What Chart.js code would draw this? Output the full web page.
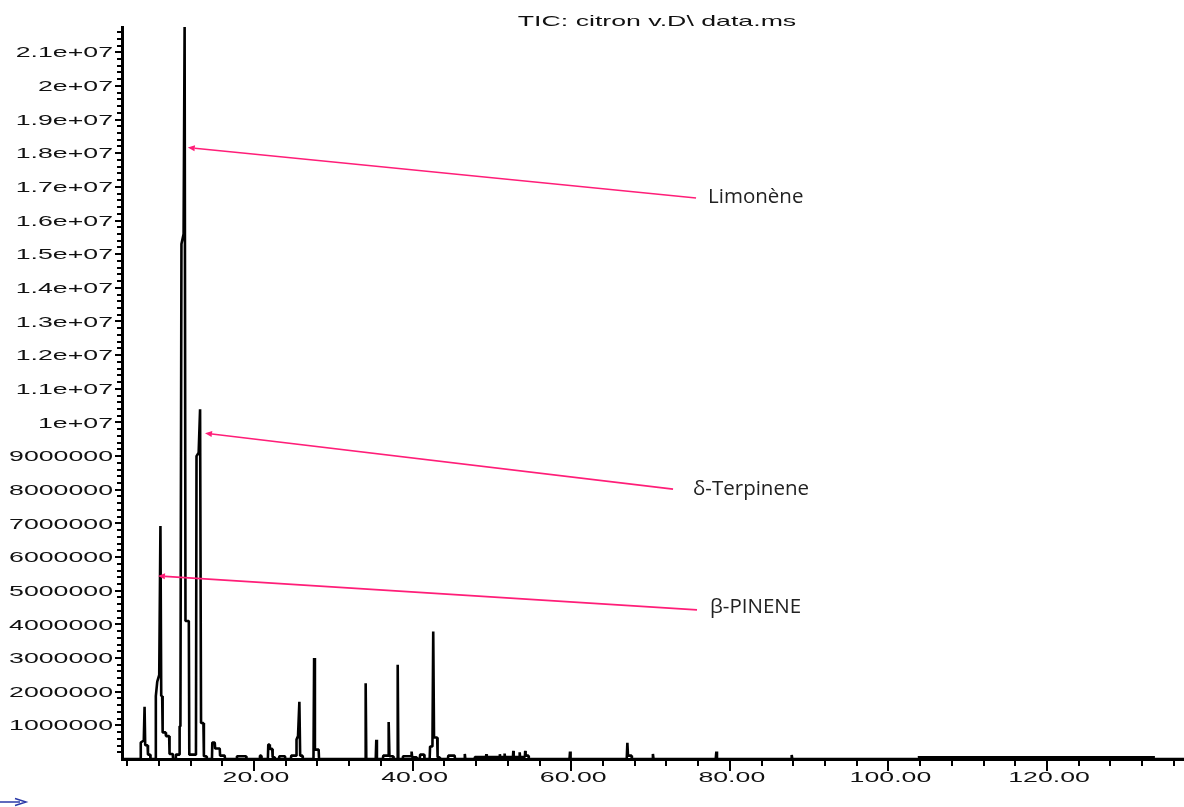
<!DOCTYPE html>
<html>
<head>
<meta charset="utf-8">
<style>
  html, body { margin: 0; padding: 0; background: #ffffff; }
  #wrap { width: 1184px; height: 807px; position: relative; }
  canvas { display: block; }
</style>
<script src="https://cdn.jsdelivr.net/npm/chart.js@4.4.1/dist/chart.umd.min.js"></script>
</head>
<body>
<div id="wrap"><canvas id="c" width="1184" height="807"></canvas></div>
<script>
// ---------------- DATA ----------------
const chartTitle = 'TIC: citron v.D\\ data.ms';

// retention time (min) of each point of the TIC trace
const rt = [
  3.35,
  5.65, 5.72, 6.10, 6.20, 6.28, 6.58, 6.63, 6.90, 6.95,
  7.55, 7.62, 7.80, 8.05, 8.20, 8.30, 8.42, 8.48, 8.85, 8.90, 9.30, 9.35, 9.75, 9.80,
  10.10, 10.15, 10.55, 10.62, 10.72, 10.85, 11.12, 11.25, 11.36, 11.78, 11.84, 12.68,
  12.75, 13.02, 13.20, 13.32, 13.62, 13.68, 14.00, 14.05,
  14.70, 14.74, 15.05, 15.10, 15.68, 15.72, 16.30, 16.35,
  17.80, 17.85, 19.00, 19.05,
  20.70, 20.75, 20.90, 20.95,
  21.75, 21.80, 21.95, 22.00, 22.30, 22.35, 22.60, 22.65,
  23.15, 23.20, 23.90, 23.95,
  24.65, 24.70, 25.30, 25.36, 25.55, 25.72, 25.82, 26.10, 26.15,
  27.50, 27.58, 27.68, 28.15, 28.20,
  34.00, 34.08, 34.16,
  35.35, 35.42, 35.50,
  36.25, 36.30, 36.90, 36.98, 37.08, 37.55, 37.60,
  38.04, 38.12, 38.20,
  38.75, 38.80, 39.80, 39.87, 39.95, 40.50, 40.55,
  40.90, 40.95, 41.45, 41.50,
  42.15, 42.20, 42.50, 42.60, 42.70, 43.10, 43.15, 43.40, 43.45,
  44.45, 44.50, 45.30, 45.35,
  46.50, 46.58, 46.65,
  47.80, 47.85, 49.25, 49.30, 49.35, 50.95, 51.00, 51.05, 51.55, 51.60, 51.65,
  52.65, 52.70, 52.75, 53.45, 53.50, 53.55, 54.15, 54.20, 54.25, 54.60, 54.65,
  59.78, 59.85, 59.92,
  67.00, 67.08, 67.16, 67.60, 67.65,
  70.22, 70.30, 70.38,
  78.22, 78.30, 78.38,
  87.72, 87.80, 87.88,
  137.30
];

// abundance (counts) at each point of the trace
const tic = [
  0,
  0, 490000, 550000, 1550000, 410000, 410000, 130000, 130000, 0,
  0, 1870000, 2300000, 2500000, 6920000, 1870000, 1870000, 790000, 790000, 680000, 680000, 150000, 150000, 0,
  0, 130000, 130000, 970000, 970000, 15300000, 15600000, 21750000, 4100000, 4100000, 130000, 130000,
  9000000, 9100000, 10390000, 1070000, 1070000, 80000, 80000, 0,
  0, 490000, 490000, 310000, 310000, 100000, 100000, 0,
  0, 80000, 80000, 0,
  0, 100000, 100000, 0,
  0, 430000, 430000, 300000, 300000, 50000, 50000, 0,
  0, 80000, 80000, 0,
  0, 100000, 100000, 580000, 680000, 1700000, 100000, 100000, 0,
  0, 3000000, 280000, 280000, 0,
  0, 2250000, 0,
  0, 570000, 0,
  0, 100000, 100000, 1100000, 80000, 80000, 0,
  0, 2800000, 0,
  0, 80000, 80000, 220000, 50000, 50000, 0,
  0, 130000, 130000, 0,
  0, 370000, 370000, 3790000, 640000, 640000, 50000, 50000, 0,
  0, 100000, 100000, 0,
  0, 150000, 0,
  0, 60000, 60000, 140000, 60000, 60000, 140000, 60000, 60000, 160000, 60000,
  60000, 240000, 60000, 60000, 200000, 60000, 60000, 240000, 100000, 100000, 0,
  0, 220000, 0,
  0, 480000, 100000, 100000, 0,
  0, 150000, 0,
  0, 220000, 0,
  0, 120000, 0,
  0
];

// late baseline noise band (thick baseline)
const noiseRt  = [103.7, 133.6];
const noiseTic = [70000, 70000];

// axis ticks
const xMajorTicks  = [20, 40, 60, 80, 100, 120];
const xTickLabels  = ['20.00', '40.00', '60.00', '80.00', '100.00', '120.00'];
const yMajorTicks  = [1000000, 2000000, 3000000, 4000000, 5000000, 6000000, 7000000, 8000000, 9000000,
                      10000000, 11000000, 12000000, 13000000, 14000000, 15000000, 16000000, 17000000,
                      18000000, 19000000, 20000000, 21000000];
const yTickLabels  = ['1000000', '2000000', '3000000', '4000000', '5000000', '6000000', '7000000', '8000000', '9000000',
                      '1e+07', '1.1e+07', '1.2e+07', '1.3e+07', '1.4e+07', '1.5e+07', '1.6e+07', '1.7e+07',
                      '1.8e+07', '1.9e+07', '2e+07', '2.1e+07'];

// peak annotations (arrow tip and tail in data coordinates)
const annLabels   = ['Limonène', 'δ-Terpinene', 'β-PINENE'];
const annTipRt    = [11.65, 13.82, 7.89];
const annTipTic   = [18170000, 9680000, 5440000];
const annTailRt   = [75.74, 72.84, 75.86];
const annTailTic  = [16670000, 8020000, 4430000];

// ---------------- CHART ----------------
const X_MIN = 3.354, X_MAX = 137.27;
const Y_MIN = 0, Y_MAX = 21750000;
const STRETCH = 1.78; // horizontal stretch of the instrument's fonts

const tracePoints = rt.map((t, i) => ({ x: t, y: tic[i] }));
const noisePoints = noiseRt.map((t, i) => ({ x: t, y: noiseTic[i] }));

function stretchedText(ctx, text, x, y, align) {
  ctx.save();
  ctx.translate(x, y);
  ctx.scale(STRETCH, 1);
  ctx.textAlign = align;
  ctx.fillText(text, 0, 0);
  ctx.restore();
}

const axisDecor = {
  id: 'axisDecor',
  afterDraw(chart) {
    const ctx = chart.ctx;
    const xs = chart.scales.x, ys = chart.scales.y;
    const area = chart.chartArea;
    ctx.save();
    ctx.fillStyle = '#000';
    // x tick marks (every 4 min, longer at labelled values)
    for (let v = 4; v <= X_MAX; v += 4) {
      const px = Math.round(xs.getPixelForValue(v));
      const major = xMajorTicks.includes(v);
      ctx.fillRect(px - 1, area.bottom + 1, 2, major ? 11 : 6);
    }
    // y tick marks (every 200000, longer at labelled values)
    for (let k = 1; k * 200000 <= Y_MAX; k++) {
      const v = k * 200000;
      const py = Math.round(ys.getPixelForValue(v));
      const major = (k % 5 === 0);
      const len = major ? 6 : 4;
      ctx.fillRect(area.left - 1 - len, py - 1, len, 2);
    }
    // labels
    ctx.font = '15px "Liberation Sans", Arial, sans-serif';
    ctx.fillStyle = '#111';
    ctx.textBaseline = 'middle';
    yMajorTicks.forEach((v, i) => {
      const py = ys.getPixelForValue(v);
      stretchedText(ctx, yTickLabels[i], area.left - 9, py + 1, 'right');
    });
    ctx.textBaseline = 'alphabetic';
    xMajorTicks.forEach((v, i) => {
      const px = xs.getPixelForValue(v);
      stretchedText(ctx, xTickLabels[i], px + 2, area.bottom + 23, 'center');
    });
    // title
    stretchedText(ctx, chartTitle, 657, 26, 'center');

    // small blue arrow bottom-left
    ctx.strokeStyle = '#2b3aa8';
    ctx.lineWidth = 1.5;
    ctx.beginPath();
    ctx.moveTo(0, 802); ctx.lineTo(20, 802);
    ctx.moveTo(15, 798.5); ctx.lineTo(26, 802); ctx.lineTo(15, 805.5);
    ctx.stroke();
    ctx.restore();
  }
};

const annotationsPlugin = {
  id: 'peakAnnotations',
  afterDraw(chart) {
    const ctx = chart.ctx;
    const xs = chart.scales.x, ys = chart.scales.y;
    const labelDx = [12, 20, 13];
    const labelDy = [5, 6, 3];
    ctx.save();
    annLabels.forEach((lab, i) => {
      const x1 = xs.getPixelForValue(annTailRt[i]), y1 = ys.getPixelForValue(annTailTic[i]);
      const x2 = xs.getPixelForValue(annTipRt[i]),  y2 = ys.getPixelForValue(annTipTic[i]);
      const ang = Math.atan2(y2 - y1, x2 - x1);
      const hl = 7, hw = 3;
      const bx = x2 - hl * Math.cos(ang), by = y2 - hl * Math.sin(ang);
      ctx.strokeStyle = '#ff1e78';
      ctx.fillStyle = '#ff1e78';
      ctx.lineWidth = 1.6;
      ctx.beginPath();
      ctx.moveTo(x1, y1);
      ctx.lineTo(bx, by);
      ctx.stroke();
      ctx.beginPath();
      ctx.moveTo(x2, y2);
      ctx.lineTo(bx + hw * Math.sin(ang), by - hw * Math.cos(ang));
      ctx.lineTo(bx - hw * Math.sin(ang), by + hw * Math.cos(ang));
      ctx.closePath();
      ctx.fill();
      ctx.fillStyle = '#222';
      ctx.font = '20.5px "Open Sans", "Noto Sans", sans-serif';
      ctx.textAlign = 'left';
      ctx.textBaseline = 'alphabetic';
      ctx.fillText(lab, x1 + labelDx[i], y1 + labelDy[i]);
    });
    ctx.restore();
  }
};

new Chart(document.getElementById('c'), {
  type: 'line',
  data: {
    datasets: [
      {
        label: 'TIC',
        data: tracePoints,
        borderColor: '#000',
        borderWidth: 2.6,
        borderJoinStyle: 'bevel',
        pointRadius: 0,
        tension: 0,
        fill: false
      },
      {
        label: 'noise',
        data: noisePoints,
        borderColor: '#000',
        backgroundColor: '#000',
        borderWidth: 1.5,
        pointRadius: 0,
        tension: 0,
        fill: 'origin'
      }
    ]
  },
  options: {
    responsive: false,
    animation: false,
    devicePixelRatio: 1,
    events: [],
    layout: { padding: { top: 27, left: 0, right: 0, bottom: 0 } },
    plugins: {
      legend: { display: false },
      tooltip: { enabled: false },
      title: { display: false }
    },
    scales: {
      x: {
        type: 'linear',
        min: X_MIN,
        max: X_MAX,
        grid: { display: false },
        border: { display: true, width: 3, color: '#000' },
        ticks: { display: false },
        afterFit(s) { s.height = 48; }
      },
      y: {
        type: 'linear',
        min: Y_MIN,
        max: Y_MAX,
        grid: { display: false },
        border: { display: true, width: 3, color: '#000' },
        ticks: { display: false },
        afterFit(s) { s.width = 122; }
      }
    }
  },
  plugins: [axisDecor, annotationsPlugin]
});
</script>
</body>
</html>
